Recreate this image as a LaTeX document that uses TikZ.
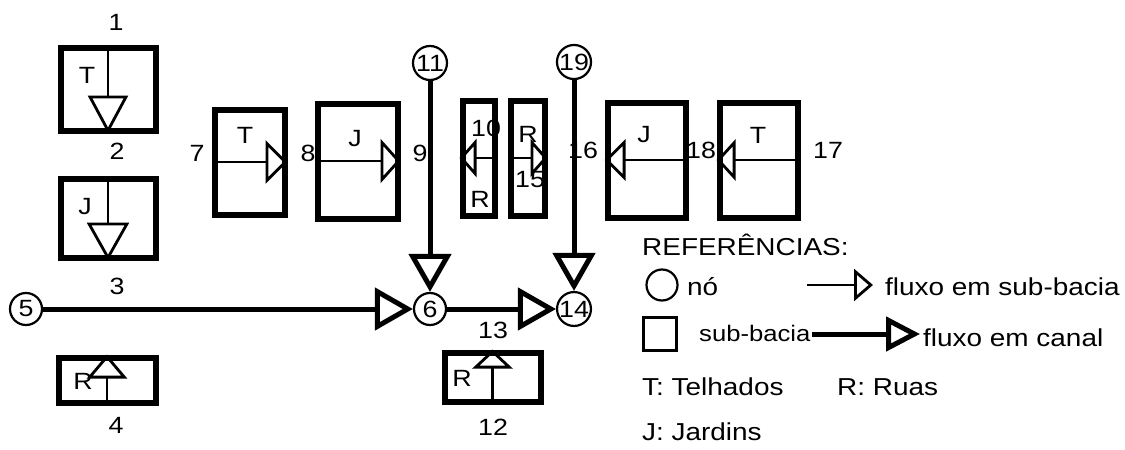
\documentclass[tikz,border=0pt]{standalone}
\usepackage{fontspec}
\setmainfont[FakeStretch=1.14]{Liberation Sans}
\usetikzlibrary{arrows.meta,positioning}

\begin{document}
\begin{tikzpicture}[
        x=1pt, y=-1pt,
        font=\fontsize{23.5}{27}\selectfont,
        bacia/.style={draw, line width=6pt, inner sep=0pt},
        juncao/.style={draw, circle, line width=2.2pt, minimum size=32pt, inner sep=0pt},
        lbl/.style={inner sep=0pt},
        leg/.style={inner sep=0pt, anchor=west, font=\fontsize{24.5}{28}\selectfont},
        fsub/.style 2 args={line width=2.5pt, -{Triangle[open, length=#1, width=#2, line width=2.8pt]}},
        fcanal/.style={line width=5pt, -{Triangle[open, length=38pt, width=42pt]}}
        ]

        \useasboundingbox (0,0) rectangle (1125,450);

        % sub-bacias
        \node[bacia, minimum width=95pt, minimum height=83pt] (b1) at (108,89) {};
        \node[bacia, minimum width=95pt, minimum height=79pt] (b2) at (108,218) {};
        \node[bacia, minimum width=97pt, minimum height=45pt] (b4) at (107,380) {};
        \node[bacia, minimum width=70pt, minimum height=105pt] (b7) at (249.5,162) {};
        \node[bacia, minimum width=80pt, minimum height=115pt] (b8) at (357.5,161) {};
        \node[bacia, minimum width=32pt, minimum height=115pt] (b10) at (478.5,158) {};
        \node[bacia, minimum width=34pt, minimum height=115pt] (b15) at (527.5,158) {};
        \node[bacia, minimum width=78pt, minimum height=115pt] (b16) at (646.5,160) {};
        \node[bacia, minimum width=78pt, minimum height=115pt] (b17) at (758.5,160) {};
        \node[bacia, minimum width=96pt, minimum height=49pt] (b12) at (492.5,377) {};

        \node[lbl] (t1) at (87,75) {T};
        \node[lbl] (j2) at (85,207) {J};
        \node[lbl] (r4) at (83,381) {R};
        \node[lbl] (t7) at (245,135) {T};
        \node[lbl] (j8) at (355,139) {J};
        \node[lbl] (r10) at (480,199) {R};
        \node[lbl] (r15) at (528,134) {R};
        \node[lbl] (j16) at (644,135) {J};
        \node[lbl] (t17) at (758,135) {T};
        \node[lbl] (r12) at (462,378) {R};

        % fluxo nas sub-bacias
        \draw[fsub={38pt}{40pt}] (b1.north) -- (b1.south);
        \draw[fsub={38pt}{42pt}] (b2.north) -- (b2.south);
        \draw[fsub={24pt}{40pt}] (b4.south) -- (b4.north);
        \draw[fsub={22pt}{43pt}] (b7.west) -- (b7.east);
        \draw[fsub={20pt}{44pt}] (b8.west) -- (b8.east);
        \draw[fsub={17pt}{38pt}] (b10.east) -- (b10.west);
        \draw[fsub={17pt}{38pt}] (b15.west) -- (b15.east);
        \draw[fsub={21pt}{41pt}] (b16.east) -- (b16.west);
        \draw[fsub={19pt}{41pt}] (b17.east) -- (b17.west);
        \draw[fsub={19pt}{40pt}] (b12.south) -- (b12.north);

        % numeros
        \node[lbl] (l1) at (116,22) {1};
        \node[lbl] (l2) at (117,151) {2};
        \node[lbl] (l3) at (117,286) {3};
        \node[lbl] (l4) at (116,425) {4};
        \node[lbl] (l7) at (197,153) {7};
        \node[lbl] (l8) at (308,153) {8};
        \node[lbl] (l9) at (420,153) {9};
        \node[lbl] (l10) at (486,128) {10};
        \node[lbl] (l15) at (530,180) {15};
        \node[lbl] (l16) at (583,150) {16};
        \node[lbl] (l18) at (701,150) {18};
        \node[lbl] (l17) at (828,150) {17};
        \node[lbl] (l13) at (493,330) {13};
        \node[lbl] (l12) at (493,427) {12};

        % nos e canais
        \node[juncao] (n5) at (26,309) {5};
        \node[juncao] (n6) at (430,309) {6};
        \node[juncao] (n14) at (574,309) {14};
        \node[juncao, minimum size=34pt] (n11) at (430,63) {11};
        \node[juncao, minimum size=34pt] (n19) at (574,62) {19};

        \draw[fcanal] (n5) -- (n6);
        \draw[fcanal] (n11) -- (n6);
        \draw[fcanal] (n6) -- (n14);
        \draw[fcanal] (n19) -- (n14);

        % legenda
        \node[leg] (ref) at (642,245) {REFERÊNCIAS:};
        \node[juncao, minimum size=31pt] (lno) at (662,285) {};
        \node[leg] (tno) at (687,287) {nó};
        \coordinate (ls1) at (807,285);
        \coordinate (ls2) at (873,285);
        \draw[fsub={19pt}{32pt}] (ls1) -- (ls2);
        \node[leg] (tsub) at (885,287) {fluxo em sub-bacia};
        \node[draw, line width=2.5pt, minimum size=33pt, inner sep=0pt] (lsq) at (660,334) {};
        \node[leg, font=\fontsize{22.5}{26}\selectfont] (tbac) at (699,333) {sub-bacia};
        \coordinate (lc1) at (812,334);
        \coordinate (lc2) at (920,334);
        \draw[line width=5pt, -{Triangle[open, length=34pt, width=34pt]}] (lc1) -- (lc2);
        \node[leg] (tcan) at (923,338) {fluxo em canal};
        \node[leg] (tT) at (642,387) {T: Telhados};
        \node[leg] (tR) at (837,387) {R: Ruas};
        \node[leg] (tJ) at (642,432) {J: Jardins};

\end{tikzpicture}
\end{document}
